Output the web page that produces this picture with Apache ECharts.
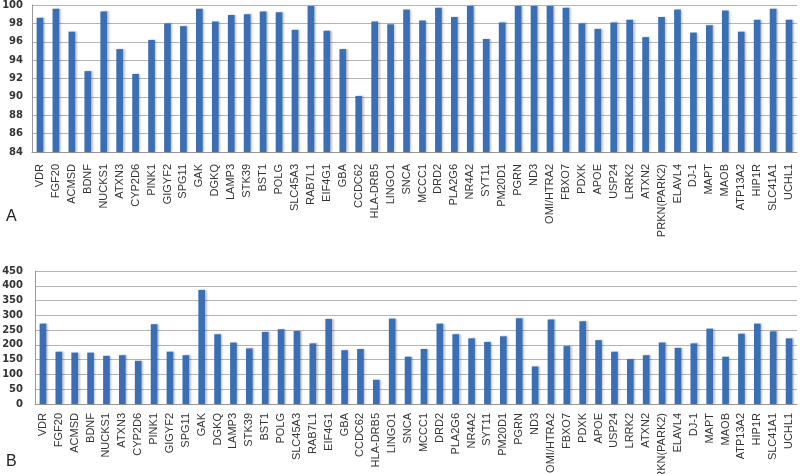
<!DOCTYPE html>
<html>
<head>
<meta charset="utf-8">
<script src="https://cdn.jsdelivr.net/npm/echarts@6/dist/echarts.min.js"></script>
<style>html,body{margin:0;padding:0;background:#fff;}#c{width:800px;height:474px;}</style>
</head>
<body>
<div id="c"></div>
<script>
const genes = ['VDR','FGF20','ACMSD','BDNF','NUCKS1','ATXN3','CYP2D6','PINK1','GIGYF2','SPG11','GAK','DGKQ','LAMP3','STK39','BST1','POLG','SLC45A3','RAB7L1','EIF4G1','GBA','CCDC62','HLA-DRB5','LINGO1','SNCA','MCCC1','DRD2','PLA2G6','NR4A2','SYT11','PM20D1','PGRN','ND3','OMI/HTRA2','FBXO7','PDXK','APOE','USP24','LRRK2','ATXN2','PRKN(PARK2)','ELAVL4','DJ-1','MAPT','MAOB','ATP13A2','HIP1R','SLC41A1','UCHL1'];
const valuesA = [98.6,99.6,97.1,92.8,99.3,95.2,92.5,96.2,98.0,97.7,99.6,98.2,98.9,99.0,99.3,99.2,97.3,99.9,97.2,95.2,90.1,98.2,97.9,99.5,98.3,99.7,98.7,99.9,96.3,98.1,99.9,99.9,99.9,99.7,98.0,97.4,98.1,98.4,96.5,98.7,99.5,97.0,97.8,99.4,97.1,98.4,99.6,98.4];
const valuesB = [272,177,174,174,163,165,146,270,177,165,386,236,208,188,244,253,247,205,288,182,186,82,289,160,186,272,236,222,210,229,290,127,286,196,280,216,177,152,165,208,190,205,255,160,238,272,246,222];
const panelLabels = ['A','B'];

const chart = echarts.init(document.getElementById('c'));
const barColor = '#3a6fb5';
function xAx(gi, margin){
  return {type:'category', gridIndex:gi, data:genes,
    axisLine:{show:true, lineStyle:{color:'#999'}}, axisTick:{show:false},
    axisLabel:{rotate:90, interval:0, margin:margin, fontFamily:'Liberation Sans Narrow, Liberation Sans', fontSize:11, color:'#333'}};
}
function yAx(gi,min,max,interval,margin){
  return {type:'value', gridIndex:gi, min:min, max:max, interval:interval,
    axisLine:{show:true, lineStyle:{color:'#999'}}, axisTick:{show:false},
    splitLine:{lineStyle:{color:'#b4b4b4'}},
    axisLabel:{fontFamily:'DejaVu Sans', fontSize:10, fontWeight:'bold', color:'#333', margin:margin}};
}
const itemStyle = {color:barColor, shadowColor:'rgba(0,0,0,0.25)', shadowBlur:2, shadowOffsetX:1.5, shadowOffsetY:0};
chart.setOption({
  animation:false,
  grid:[{left:32, right:3, top:5, height:147, containLabel:false, outerBoundsMode:'none'},
        {left:35, right:3, top:271, height:133, containLabel:false, outerBoundsMode:'none'}],
  xAxis:[xAx(0, 12), xAx(1, 9)],
  yAxis:[yAx(0,84,100,2,9), yAx(1,0,450,50,12)],
  series:[
    {type:'bar', xAxisIndex:0, yAxisIndex:0, data:valuesA, barWidth:'42%', itemStyle:itemStyle},
    {type:'bar', xAxisIndex:1, yAxisIndex:1, data:valuesB, barWidth:'42%', itemStyle:itemStyle}
  ],
  graphic:[
    {type:'text', left:6, top:209, style:{text:panelLabels[0], font:'16px Liberation Sans', fill:'#222'}},
    {type:'text', left:6, top:454, style:{text:panelLabels[1], font:'16px Liberation Sans', fill:'#222'}}
  ]
});
</script>
</body>
</html>
